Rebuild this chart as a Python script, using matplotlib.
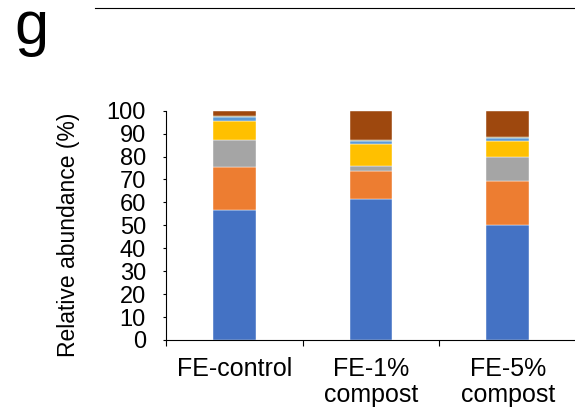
import matplotlib
matplotlib.use("Agg")
import matplotlib.pyplot as plt
import numpy as np

plt.rcParams['font.family'] = ['Liberation Sans', 'DejaVu Sans']

samples = ["FE-control", "FE-1%\ncompost", "FE-5%\ncompost"]
# stacked from the bottom up
blue = [56.6, 61.4, 50.2]
orange = [19.0, 12.2, 19.1]
gray = [11.6, 2.4, 10.4]
yellow = [8.4, 9.6, 7.2]
light_blue = [1.8, 1.2, 1.2]
olive = [0.3, 0.2, 0.4]
brown = [2.3, 13.0, 11.5]

series = [blue, orange, gray, yellow, light_blue, olive, brown]
colors = ["#4472C4", "#ED7D31", "#A5A5A5", "#FFC000", "#5B9BD5", "#8C8C5A", "#9E480E"]

fig = plt.figure(figsize=(5.75, 4.12), dpi=100)
ax = fig.add_axes([0.2887, 0.1748, 0.7130, 0.5566])

x = np.arange(len(samples))
bottom = np.zeros(len(samples))
for vals, c in zip(series, colors):
    ax.bar(x, vals, width=0.31, bottom=bottom, color=c, edgecolor='white', linewidth=0.3)
    bottom += np.array(vals)

ax.set_xlim(-0.5, 2.5)
ax.set_ylim(0, 100)
ax.set_yticks(np.arange(0, 101, 10))
ax.set_xticks(x)
ax.set_xticklabels(samples, fontsize=18, linespacing=1.12)
ax.set_xticks([-0.5, 0.5, 1.5, 2.5], minor=True)
ax.tick_params(axis='x', which='major', length=0, pad=12)
ax.tick_params(axis='x', which='minor', length=4, width=0.8, direction='out')
ax.tick_params(axis='y', labelsize=17, length=2.5, width=0.8, pad=12)
for s in ['top', 'right']:
    ax.spines[s].set_visible(False)
for s in ['left', 'bottom']:
    ax.spines[s].set_linewidth(0.8)
ax.set_ylabel("Relative abundance (%)", fontsize=16.5, va='center')
ax.yaxis.set_label_coords(-0.238, 0.458)

fig.text(0.025, 1.0, "g", fontsize=44, va='top', ha='left')
fig.add_artist(plt.Line2D([95 / 575, 1.0], [1 - 8 / 412, 1 - 8 / 412], color='black', linewidth=0.8))

fig.savefig("out.png", dpi=100)
